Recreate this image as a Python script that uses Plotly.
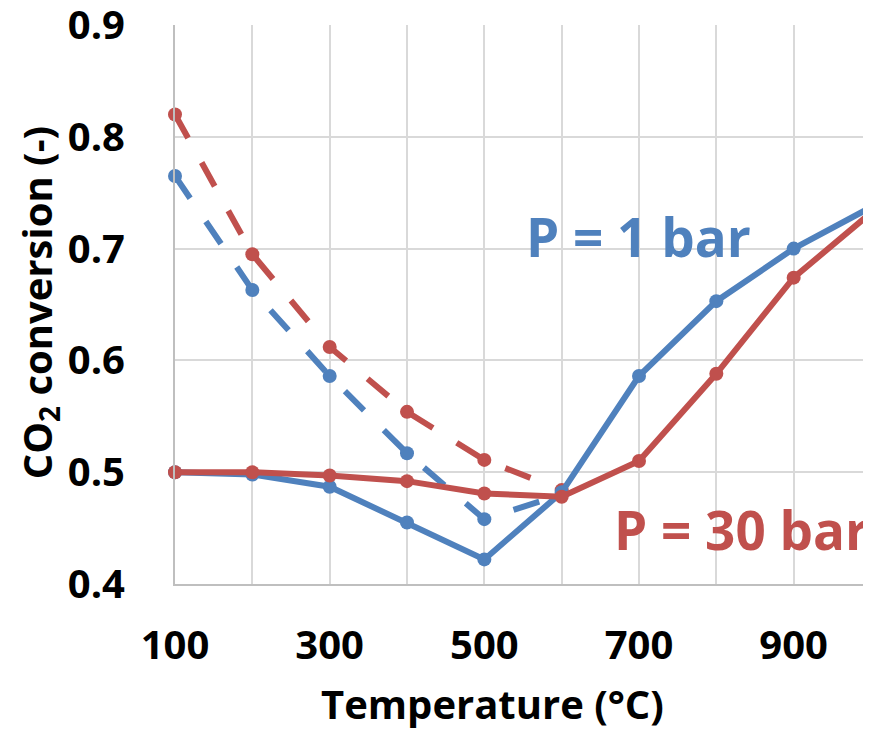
import plotly.graph_objects as go

temps = [100, 200, 300, 400, 500, 600, 700, 800, 900, 1000]
p1_solid = [0.500, 0.498, 0.487, 0.455, 0.422, 0.482, 0.586, 0.653, 0.700, 0.737]
p30_solid = [0.500, 0.500, 0.497, 0.492, 0.481, 0.478, 0.510, 0.588, 0.674, 0.732]
dash_temps = [100, 200, 300, 400, 500, 600]
p1_dash = [0.765, 0.663, 0.586, 0.517, 0.458, 0.480]
p30_dash = [0.820, 0.695, 0.612, 0.554, 0.511, 0.484]

x_tickvals = [100, 200, 300, 400, 500, 600, 700, 800, 900, 1000]
x_ticktext = ["100", "", "300", "", "500", "", "700", "", "900", ""]
y_tickvals = [0.4, 0.5, 0.6, 0.7, 0.8, 0.9]

x_title = "<b>Temperature (°C)</b>"
y_title = "<b>CO<sub>2</sub> conversion (-)</b>"

BLUE = "#4f81bd"
RED = "#c0504d"
FONT = "Open Sans"
DASH = "27px,28px"

fig = go.Figure()
for xs, ys, col, dash in [(dash_temps, p1_dash, BLUE, DASH),
                          (dash_temps, p30_dash, RED, DASH),
                          (temps, p1_solid, BLUE, "solid"),
                          (temps, p30_solid, RED, "solid")]:
    fig.add_trace(go.Scatter(x=xs, y=ys, mode="lines+markers",
                             line=dict(color=col, width=6, dash=dash),
                             marker=dict(size=14, color=col), cliponaxis=False))

fig.add_annotation(x=699, y=0.711, text="<b>P = 1 bar</b>", showarrow=False,
                   xanchor="center", yanchor="middle",
                   font=dict(family=FONT, size=53, color=BLUE))
fig.add_annotation(x=1000, y=0.449, text="<b>P = 30 bar</b>", showarrow=False,
                   xanchor="right", yanchor="middle", xshift=0,
                   font=dict(family=FONT, size=53, color=RED))

# axis titles (placed as in the reference, slightly off-centre)
fig.add_annotation(xref="paper", yref="paper", x=0.4555, y=-0.2648,
                   text=x_title, showarrow=False, xanchor="center", yanchor="bottom",
                   borderpad=0,
                   font=dict(family=FONT, size=40, color="black"))
fig.add_annotation(xref="paper", yref="paper", x=-0.2399, y=0.503,
                   text=y_title, showarrow=False, xanchor="left", yanchor="middle",
                   textangle=-90, borderpad=0,
                   font=dict(family=FONT, size=40, color="black"))

fig.update_layout(
    width=863, height=724,
    margin=dict(l=167, r=0, t=17, b=148, autoexpand=False),
    plot_bgcolor="white", paper_bgcolor="white",
    showlegend=False,
    font=dict(family=FONT, size=40, color="black"),
)
fig.update_xaxes(range=[100, 1000], tickvals=x_tickvals, ticktext=x_ticktext,
                 showgrid=True, gridcolor="#d9d9d9", gridwidth=2,
                 showline=True, linecolor="#bfbfbf", linewidth=2,
                 ticks="outside", ticklen=25, tickcolor="rgba(0,0,0,0)",
                 ticklabeloverflow="allow", automargin=False,
                 tickfont=dict(family=FONT, size=40, color="black", weight="bold"),
                 zeroline=False)
fig.update_yaxes(range=[0.4, 0.9], tickvals=y_tickvals, tickformat=".1f",
                 showgrid=True, gridcolor="#d9d9d9", gridwidth=2,
                 showline=True, linecolor="#bfbfbf", linewidth=2,
                 ticks="outside", ticklen=40, tickcolor="rgba(0,0,0,0)",
                 ticklabeloverflow="allow", automargin=False,
                 tickfont=dict(family=FONT, size=40, color="black", weight="bold"),
                 zeroline=False)

fig.write_html("out.html")
